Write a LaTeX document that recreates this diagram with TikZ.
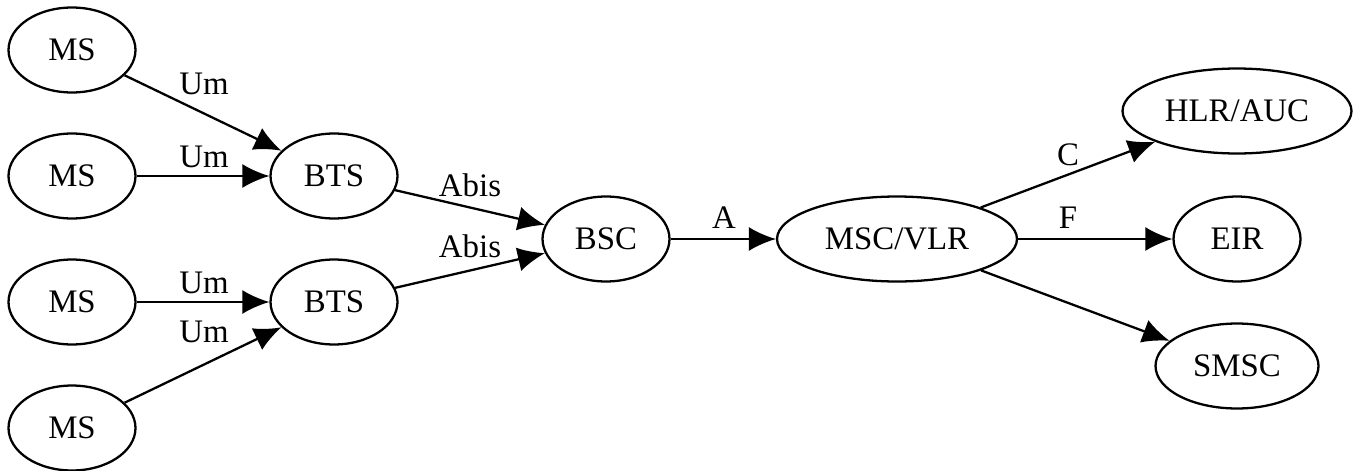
\documentclass[tikz,border=0pt]{standalone}
\usepackage{fontspec}
\setmainfont{Liberation Serif}
\usepackage{tikz}
\usetikzlibrary{shapes.geometric,arrows.meta}
\tikzset{
  font={\fontsize{18.7pt}{22pt}\selectfont}}

\begin{document}
\begin{tikzpicture}[x=0.02cm,y=-0.02cm]
\tikzstyle{state}=[draw=black,ellipse,line width=1.3pt,inner sep=0pt,minimum width=2.54cm,minimum height=1.7cm]
\tikzstyle{edge}=[draw=black,line width=1.3pt,-{Latex[length=0.54cm,width=0.48cm]}]
\tikzstyle{lbl}=[inner sep=0pt]
\useasboundingbox (0,0) rectangle (1361,470);
\node [state] (ms1) at (72,50) {MS};
\node [state] (ms2) at (72,176) {MS};
\node [state] (ms3) at (72,302) {MS};
\node [state] (ms4) at (72,428) {MS};
\node [state] (bts1) at (334,176) {BTS};
\node [state] (bts2) at (334,302) {BTS};
\node [state] (bsc) at (606,239) {BSC};
\node [state,minimum width=4.8cm] (msc) at (897,239) {MSC/VLR};
\node [state,minimum width=4.58cm] (hlr) at (1237,111) {HLR/AUC};
\node [state] (eir) at (1237,239) {EIR};
\node [state,minimum width=3.26cm] (smsc) at (1237,366) {SMSC};
\draw [edge] (ms1) -- (bts1);
\node [lbl] (um1) at (204,84) {Um};
\draw [edge] (ms2) -- (bts1);
\node [lbl] (um2) at (204,157) {Um};
\draw [edge] (ms3) -- (bts2);
\node [lbl] (um3) at (204,283) {Um};
\draw [edge] (ms4) -- (bts2);
\node [lbl] (um4) at (204,332) {Um};
\draw [edge] (bts1) -- (bsc);
\node [lbl] (abis1) at (470,185) {Abis};
\draw [edge] (bts2) -- (bsc);
\node [lbl] (abis2) at (470,246) {Abis};
\draw [edge] (bsc) -- (msc);
\node [lbl] (la) at (724,218) {A};
\draw [edge] (msc) -- (hlr);
\node [lbl] (lc) at (1068,155) {C};
\draw [edge] (msc) -- (eir);
\node [lbl] (lf) at (1068,218) {F};
\draw [edge] (msc) -- (smsc);
\end{tikzpicture}
\end{document}
